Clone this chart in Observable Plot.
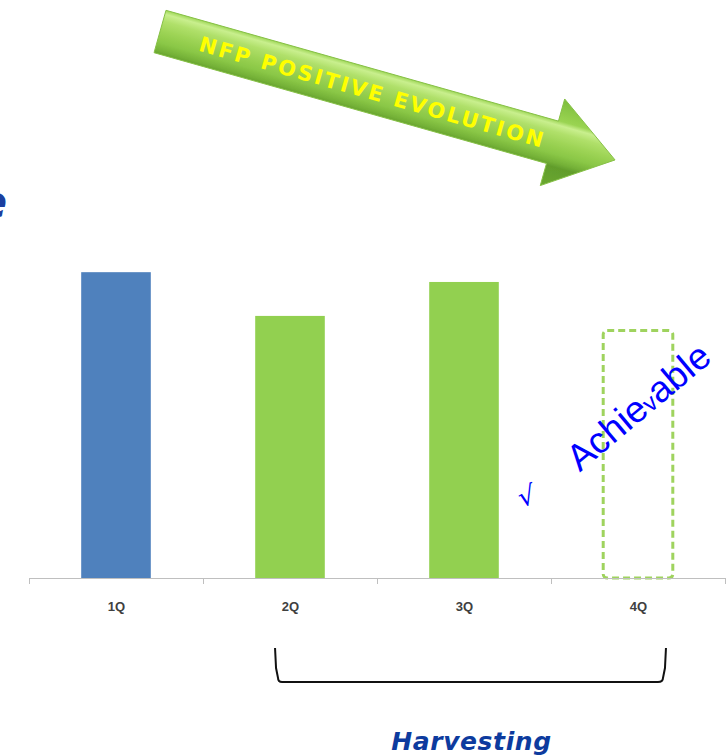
<!DOCTYPE html>
<html><head><meta charset="utf-8">
<script src="https://cdn.jsdelivr.net/npm/d3@7"></script>
<script src="https://cdn.jsdelivr.net/npm/@observablehq/plot@0.6"></script>
<style>html,body{margin:0;padding:0;background:#fff;} #chart svg{display:block;}</style>
</head><body><div id="chart"></div>
<script>
// ---- data ----
const quarters = [1, 2, 3, 4];
const quarterLabels = ["1Q", "2Q", "3Q", "4Q"];
const values = [100, 85.7, 96.8, 80.9];
const kinds = ["actual", "harvest", "harvest", "target"];
const boundaries = [0.5, 1.5, 2.5, 3.5, 4.5];

// ---- annotations (data units) ----
const arrowFrom = {x: 1.253, y: 178.7};
const arrowTo = {x: 3.868, y: 136.7};
const arrowLabel = "NFP POSITIVE EVOLUTION";
const arrowLabelPos = {x: 2.474, y: 158.9};
const achievableParts = ["Achie", "v", "able"];
const achievablePos = {x: 3.665, y: 34.5};
const checkLabel = "√";
const checkPos = {x: 3.37, y: 24.0};
const titleFragment = "e";
const titleFragmentPos = {x: 0.372, y: 118};
const bracketSpan = {x1: 1.914, x2: 4.155, y1: -22.9, y2: -34.0};
const bracketLabel = "Harvesting";
const bracketLabelPos = {x: 3.040, y: -56.2};

const data = quarters.map((q, i) => ({q, label: quarterLabels[i], value: values[i], kind: kinds[i]}));

function arrowMark(index, {x, y}) {
  const x0 = x(arrowFrom.x), y0 = y(arrowFrom.y), x1 = x(arrowTo.x), y1 = y(arrowTo.y);
  const dx = x1 - x0, dy = y1 - y0, L = Math.hypot(dx, dy);
  const ux = dx / L, uy = dy / L, vx = -uy, vy = ux;
  const sw = 22, hw = 45, hl = 65;
  const pt = (a, b) => [x0 + ux * a + vx * b, y0 + uy * a + vy * b];
  const pts = [pt(0, -sw), pt(L - hl, -sw), pt(L - hl, -hw), pt(L, 0), pt(L - hl, hw), pt(L - hl, sw), pt(0, sw)];
  const g = d3.create("svg:g");
  const defs = g.append("defs");
  const a = pt(0, -hw), b = pt(0, hw);
  const grad = defs.append("linearGradient").attr("id", "nfpArrowGrad")
    .attr("gradientUnits", "userSpaceOnUse")
    .attr("x1", a[0]).attr("y1", a[1]).attr("x2", b[0]).attr("y2", b[1]);
  [[0, "#7dbd3c"], [0.25, "#9ad452"], [0.3, "#c9ef8e"], [0.38, "#b0e06a"], [0.5, "#9cd354"],
   [0.62, "#8ac746"], [0.71, "#74b137"], [0.76, "#629d2c"], [1, "#6aa830"]]
    .forEach(([o, c]) => grad.append("stop").attr("offset", o).attr("stop-color", c));
  const blur = defs.append("filter").attr("id", "softEdge");
  blur.append("feGaussianBlur").attr("stdDeviation", 0.7);
  g.append("polygon")
    .attr("points", pts.map(p => p.join(",")).join(" "))
    .attr("fill", "url(#nfpArrowGrad)")
    .attr("stroke", "#86c046").attr("stroke-width", 1)
    .attr("filter", "url(#softEdge)");
  const ang = Math.atan2(dy, dx) * 180 / Math.PI;
  g.append("text")
    .attr("transform", `translate(${x(arrowLabelPos.x)},${y(arrowLabelPos.y)}) rotate(${ang})`)
    .attr("text-anchor", "middle").attr("dy", "0.36em")
    .attr("fill", "#ffff00").attr("font-family", "DejaVu Sans").attr("font-weight", "bold")
    .attr("font-size", 21).attr("letter-spacing", 2.4)
    .text(arrowLabel);
  return g.node();
}

function achievableMark(index, {x, y}) {
  const g = d3.create("svg:g");
  const t = g.append("text")
    .attr("transform", `translate(${x(achievablePos.x)},${y(achievablePos.y)}) rotate(-40)`)
    .attr("text-anchor", "start")
    .attr("fill", "#0000ff").attr("font-family", "Liberation Sans").attr("font-size", 37);
  achievableParts.forEach((s, i) => t.append("tspan").attr("font-size", i === 1 ? 24 : 37).text(s));
  return g.node();
}

function bracketMark(index, {x, y}) {
  const xa = x(bracketSpan.x1), xb = x(bracketSpan.x2), ya = y(bracketSpan.y1), yb = y(bracketSpan.y2);
  const p = d3.path();
  p.moveTo(xa, ya);
  p.lineTo(xa + 1, ya + 20);
  p.lineTo(xa + 3, yb - 4);
  p.quadraticCurveTo(xa + 3, yb, xa + 7, yb);
  p.lineTo(xb - 7, yb);
  p.quadraticCurveTo(xb - 2, yb, xb - 2, yb - 4);
  p.lineTo(xb, ya + 20);
  p.lineTo(xb + 1, ya);
  return d3.create("svg:path").attr("d", p.toString())
    .attr("fill", "none").attr("stroke", "#111").attr("stroke-width", 2).node();
}

const chart = Plot.plot({
  width: 726,
  height: 755,
  marginLeft: 29,
  marginRight: 1,
  marginTop: 0,
  marginBottom: 177,
  style: {fontFamily: "Liberation Sans", fontSize: "12px", background: "#fff", overflow: "visible"},
  x: {domain: [0.5, 4.5], label: null},
  y: {domain: [0, 189], axis: null},
  marks: [
    Plot.rectY(data.filter(d => d.kind === "actual"), {x1: d => d.q - 0.2, x2: d => d.q + 0.2, y: "value", fill: "#4f81bd"}),
    Plot.rectY(data.filter(d => d.kind === "harvest"), {x1: d => d.q - 0.2, x2: d => d.q + 0.2, y: "value", fill: "#92d050"}),
    Plot.rectY(data.filter(d => d.kind === "target"), {x1: d => d.q - 0.2, x2: d => d.q + 0.2, y: "value", fill: "none", stroke: "#9fd35e", strokeWidth: 3, strokeDasharray: "7,4", rx: 4}),
    Plot.ruleY([0], {stroke: "#bfbfbf", strokeWidth: 1.2}),
    Plot.axisX({ticks: boundaries, tickSize: 6, tickFormat: () => "", stroke: "#bfbfbf", label: null}),
    Plot.axisX({ticks: quarters, tickSize: 0, tickPadding: 23, tickFormat: d => quarterLabels[d - 1], fontWeight: "bold", fontSize: 13, fill: "#404040", label: null}),
    arrowMark,
    achievableMark,
    Plot.text([checkPos], {x: "x", y: "y", text: () => checkLabel, lineAnchor: "bottom", fontSize: 27, fill: "#0000ff", fontFamily: "DejaVu Sans", rotate: -14}),
    Plot.text([titleFragmentPos], {x: "x", y: "y", text: () => titleFragment, textAnchor: "end", lineAnchor: "bottom", fontSize: 46, fontWeight: "bold", fontStyle: "italic", fontFamily: "DejaVu Sans", fill: "#1b3f9f"}),
    bracketMark,
    Plot.text([bracketLabelPos], {x: "x", y: "y", text: () => bracketLabel, lineAnchor: "bottom", fontSize: 25, fontWeight: "bold", fontStyle: "italic", fontFamily: "DejaVu Sans", fill: "#0d3b9e"})
  ]
});
d3.select(chart).selectAll("text").filter(function() { return this.textContent === bracketLabel; })
  .attr("letter-spacing", 0.6);
d3.select(chart).selectAll("text").filter(function() { return quarterLabels.includes(this.textContent); })
  .attr("font-size", 13).attr("font-weight", "bold");
document.getElementById("chart").appendChild(chart);
</script>
</body></html>
